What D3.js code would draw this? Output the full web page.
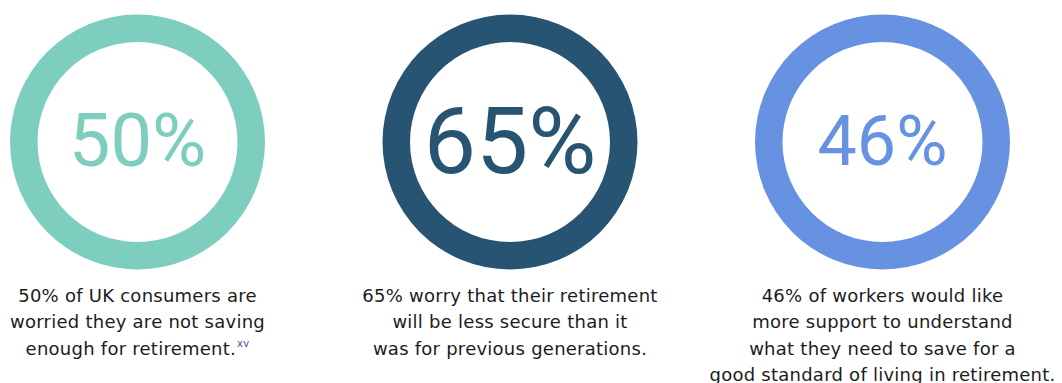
<!DOCTYPE html>
<html>
<head>
<meta charset="utf-8">
<script src="https://cdn.jsdelivr.net/npm/d3@7"></script>
<style>
  html, body { margin: 0; padding: 0; background: #ffffff; }
  svg { display: block; }
</style>
</head>
<body>
<svg id="chart" width="1062" height="383"></svg>
<script>
// Stat rings: one ring per figure, big percentage inside, caption below
const categories = ["consumers", "retirement", "workers"];
const values = [50, 65, 46];
const colors = ["#7dcebf", "#285474", "#6792e1"];
const valueFontSizes = [74, 93, 70];
const captions = [
  ["50% of UK consumers are", "worried they are not saving", "enough for retirement."],
  ["65% worry that their retirement", "will be less secure than it", "was for previous generations."],
  ["46% of workers would like", "more support to understand", "what they need to save for a", "good standard of living in retirement."]
];
const footnotes = ["xv", "", ""];

const width = 1062, height = 383;
const svg = d3.select("#chart");

const x = d3.scalePoint().domain(categories).range([137.5, 882.5]);
const cy = 142;
const outerR = 127.5, innerR = 100;

const ring = d3.arc()
  .innerRadius(innerR)
  .outerRadius(outerR)
  .startAngle(0)
  .endAngle(2 * Math.PI);

const groups = svg.selectAll("g.stat")
  .data(categories.map((c, i) => ({ c, i, v: values[i] })))
  .join("g")
  .attr("class", "stat")
  .attr("transform", d => `translate(${x(d.c)},0)`);

groups.append("path")
  .attr("transform", `translate(0,${cy})`)
  .attr("d", ring)
  .attr("fill", d => colors[d.i]);

groups.append("text")
  .attr("x", 0)
  .attr("y", cy)
  .attr("dy", "0.33em")
  .attr("text-anchor", "middle")
  .attr("font-family", "Roboto, 'Liberation Sans', sans-serif")
  .attr("font-weight", 400)
  .attr("font-size", d => valueFontSizes[d.i])
  .attr("fill", d => colors[d.i])
  .text(d => d3.format("d")(d.v) + "%");

const captionTop = 302, lineH = 26.3;
groups.each(function(d) {
  const g = d3.select(this);
  const t = g.append("text")
    .attr("text-anchor", "middle")
    .attr("font-family", "'DejaVu Sans', sans-serif")
    .attr("font-size", 18)
    .attr("letter-spacing", 0.25)
    .attr("fill", "#1c1c1c");
  const lines = captions[d.i];
  lines.forEach((line, k) => {
    t.append("tspan")
      .attr("x", 0)
      .attr("y", captionTop + k * lineH)
      .text(line);
    if (k === lines.length - 1 && footnotes[d.i]) {
      t.append("tspan")
        .attr("dy", -8)
        .attr("dx", 1)
        .attr("font-size", 10)
        .attr("fill", "#6b3f86")
        .text(footnotes[d.i]);
    }
  });
});
</script>
</body>
</html>
